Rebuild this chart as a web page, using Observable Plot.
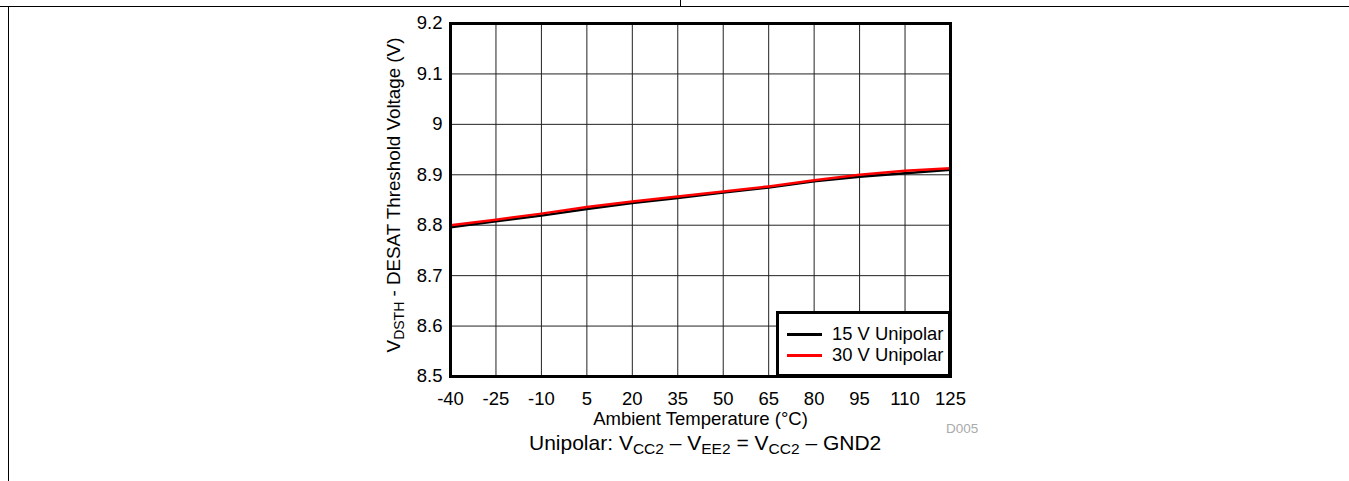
<!DOCTYPE html>
<html>
<head>
<meta charset="utf-8">
<script src="https://cdn.jsdelivr.net/npm/d3@7"></script>
<script src="https://cdn.jsdelivr.net/npm/@observablehq/plot@0.6"></script>
<style>
  html, body { margin: 0; padding: 0; background: #fff; overflow: hidden; }
  body { width: 1349px; height: 481px; position: relative; font-family: "Liberation Sans", Arial, sans-serif; color: #000; }
  #chart { position: absolute; left: 0; top: 0; }
  .rule { position: absolute; background: #000; z-index: 5; }
  #legend { position: absolute; left: 776px; top: 311px; width: 175px; height: 66px; box-sizing: border-box;
            border: 3px solid #000; background: #fff; z-index: 4; }
  .item { position: absolute; left: 0; height: 20px; line-height: 20px; font-size: 18.4px; white-space: nowrap; }
  .sw { position: absolute; left: 8px; top: 9px; width: 35px; height: 2.5px; }
  .lab { position: absolute; left: 53px; top: 0; }
  #caption { position: absolute; left: 529px; top: 432px; font-size: 21px; line-height: 21px; white-space: nowrap; z-index: 4; }
  #caption .sub { font-size: 15.5px; position: relative; top: 4px; }
  #code { position: absolute; left: 946px; top: 422px; font-size: 13.5px; line-height: 13px; color: #aaa; z-index: 4; }
</style>
</head>
<body>
<div id="chart"></div>
<div class="rule" style="left:0;top:6px;width:1349px;height:1px;"></div>
<div class="rule" style="left:680px;top:0;width:1px;height:6px;"></div>
<div class="rule" style="left:8px;top:6px;width:1px;height:475px;"></div>
<div id="legend"></div>
<div id="caption"></div>
<div id="code"></div>
<script>
// ---- data ----
const temps = [-40, -25, -10, 5, 20, 35, 50, 65, 80, 95, 110, 125];
const v15 = [8.796, 8.808, 8.819, 8.832, 8.844, 8.854, 8.865, 8.875, 8.887, 8.896, 8.903, 8.910];
const v30 = [8.800, 8.811, 8.823, 8.836, 8.847, 8.857, 8.867, 8.877, 8.889, 8.900, 8.908, 8.913];
const seriesNames = ["15 V Unipolar", "30 V Unipolar"];
const seriesColors = ["#000000", "#ff0000"];
const xTicks = [-40, -25, -10, 5, 20, 35, 50, 65, 80, 95, 110, 125];
const xTickLabels = ["-40", "-25", "-10", "5", "20", "35", "50", "65", "80", "95", "110", "125"];
const yTicks = [8.5, 8.6, 8.7, 8.8, 8.9, 9.0, 9.1, 9.2];
const yTickLabels = ["8.5", "8.6", "8.7", "8.8", "8.9", "9", "9.1", "9.2"];
const xLabel = "Ambient Temperature (°C)";
const yLabelMain = "V";
const yLabelSub = "DSTH";
const yLabelRest = " - DESAT Threshold Voltage (V)";
const captionParts = [["Unipolar: V", false], ["CC2", true], [" – V", false], ["EE2", true], [" = V", false], ["CC2", true], [" – GND2", false]];
const figureCode = "D005";

// ---- table ----
const rows = [];
[v15, v30].forEach((vals, k) => temps.forEach((t, i) => rows.push({series: seriesNames[k], t, v: vals[i]})));

const FONT = "'Liberation Sans', Arial, sans-serif";
const plot = Plot.plot({
  width: 1349, height: 481,
  marginLeft: 450, marginRight: 399, marginTop: 23, marginBottom: 105,
  style: {background: "transparent", fontFamily: FONT, fontSize: "18.5px", color: "#000", overflow: "visible"},
  x: {domain: [-40, 125]},
  y: {domain: [8.5, 9.2]},
  color: {domain: seriesNames, range: seriesColors},
  marks: [
    Plot.gridX(xTicks, {stroke: "#222", strokeOpacity: 1, strokeWidth: 1}),
    Plot.gridY(yTicks, {stroke: "#222", strokeOpacity: 1, strokeWidth: 1}),
    Plot.axisX(xTicks, {tickSize: 0, tickPadding: 15, label: null, fontSize: 18.5,
      tickFormat: d => xTickLabels[xTicks.indexOf(d)]}),
    Plot.axisY(yTicks, {tickSize: 0, tickPadding: 8, label: null, fontSize: 18.5,
      tickFormat: d => yTickLabels[yTicks.indexOf(d)]}),
    Plot.line(rows, {x: "t", y: "v", z: "series", stroke: "series", strokeWidth: 2.5}),
    Plot.frame({stroke: "#000", strokeWidth: 3}),
    Plot.text([xLabel], {frameAnchor: "bottom", dy: 48, fontSize: 18.5, text: d => d, fill: "#000"})
  ]
});
document.getElementById("chart").appendChild(plot);

// y axis title with subscript
const yt = d3.select(plot).append("text")
  .attr("transform", "translate(400,195) rotate(-90)")
  .attr("text-anchor", "middle")
  .attr("font-size", 18.8)
  .attr("font-family", FONT)
  .attr("fill", "#000");
yt.append("tspan").text(yLabelMain);
yt.append("tspan").attr("font-size", 14).attr("dy", 4).text(yLabelSub);
yt.append("tspan").attr("dy", -4).text(yLabelRest);

// legend
const leg = d3.select("#legend");
seriesNames.forEach((s, i) => {
  const it = leg.append("div").attr("class", "item").style("top", (i === 0 ? 10 : 31) + "px");
  it.append("span").attr("class", "sw").style("background", seriesColors[i]);
  it.append("span").attr("class", "lab").text(s);
});

// caption
const cap = d3.select("#caption");
captionParts.forEach(([t, sub]) => cap.append("span").attr("class", sub ? "sub" : null).text(t));
d3.select("#code").text(figureCode);
</script>
</body>
</html>
